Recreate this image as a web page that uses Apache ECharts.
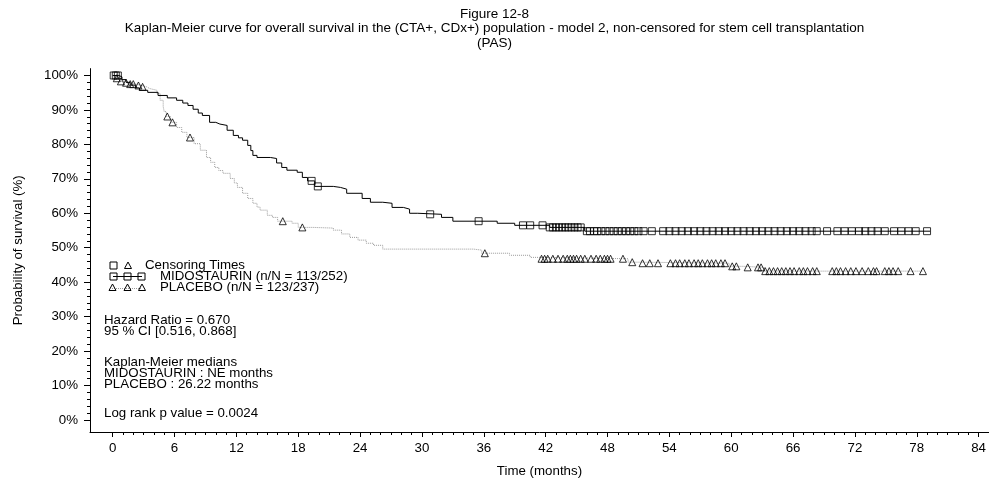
<!DOCTYPE html>
<html>
<head>
<meta charset="utf-8">
<script src="https://cdn.jsdelivr.net/npm/echarts@6/dist/echarts.min.js"></script>
<style>
    html, body { margin: 0; padding: 0; background: #fff; }
    #chart { width: 989px; height: 483px; }
</style>
</head>
<body>
<div id="chart"></div>
<script>
// tick labels
var xTicks = [0, 6, 12, 18, 24, 30, 36, 42, 48, 54, 60, 66, 72, 78, 84];
var yTicks = [0, 10, 20, 30, 40, 50, 60, 70, 80, 90, 100];

// MIDOSTAURIN step curve (months, % surviving)
var midoTime = [0, 0.6, 0.9, 1.3, 1.7, 2.2, 2.6, 3.4, 4.4, 5.3, 6.2, 6.8, 7.3, 7.8, 8.3, 8.7, 9.4, 10.0, 10.4, 11.1,
    11.7, 12.2, 12.6, 13.1, 13.4, 13.6, 14.0, 15.3, 15.9, 16.4, 16.9, 17.9, 18.4, 18.9, 19.6, 21.4, 22.1, 22.7,
    24.2, 25.0, 26.2, 27.1, 28.2, 28.8, 29.6, 31.9, 33.0, 37.3, 39.0, 42.4, 45.8, 79.3];
var midoSurv = [100, 99.6, 98.8, 98.0, 97.2, 96.4, 95.7, 95.1, 94.2, 93.5, 92.8, 92.0, 91.3, 90.2, 89.1, 88.4, 86.4, 85.9, 85.5, 84.1,
    82.6, 81.9, 81.2, 79.7, 78.2, 76.8, 76.2, 75.9, 74.6, 73.3, 72.5, 71.9, 70.4, 69.4, 67.8, 67.5, 67.0, 65.8,
    64.3, 63.2, 62.9, 61.7, 61.2, 60.0, 59.7, 58.8, 57.7, 57.1, 56.5, 55.9, 54.8, 54.8];
var midoCensor = [0.1, 0.3, 0.5, 19.3, 19.9, 30.8, 35.5, 39.8, 40.5, 41.7,
    42.4, 42.7, 43.0, 43.3, 43.6, 43.9, 44.2, 44.5, 44.8, 45.1, 45.4,
    46.0, 46.3, 46.7, 47.0, 47.4, 47.8, 48.2, 48.6, 49.0, 49.4, 49.8, 50.2, 50.6, 51.0, 51.5, 52.3,
    53.4, 54.0, 54.6, 55.2, 55.8, 56.4, 57.0, 57.6, 58.2, 58.8, 59.4, 60.0, 60.6, 61.2, 61.8, 62.4,
    63.0, 63.6, 64.2, 64.8, 65.4, 66.0, 66.6, 67.2, 67.8, 68.3,
    69.3, 70.3, 71.0, 71.7, 72.4, 73.0, 73.6, 74.2, 74.9, 75.8, 76.5, 77.2, 77.9, 79.0];

// PLACEBO step curve
var placTime = [0, 0.3, 0.7, 1.2, 1.7, 2.2, 2.8, 3.3, 3.6, 4.3, 4.6, 4.9, 5.0, 5.2, 5.6, 6.2, 6.7, 7.2, 7.9, 8.5,
    9.1, 9.5, 9.9, 10.3, 10.7, 11.4, 11.8, 12.1, 12.6, 13.1, 13.6, 14.0, 14.3, 15.0, 15.5, 16.0, 17.4, 18.0,
    19.4, 21.4, 22.2, 23.0, 23.8, 24.6, 25.3, 26.2, 35.0, 35.8, 38.5, 40.5, 41.3, 50.0, 51.2, 59.8, 61.2, 63.2, 78.6];
var placSurv = [100, 99.2, 98.3, 97.9, 97.5, 97.1, 96.7, 96.2, 95.7, 94.8, 92.8, 91.0, 89.5, 88.1, 86.4, 84.9, 83.5, 82.0, 80.2, 78.3,
    76.2, 74.8, 73.3, 72.4, 71.6, 70.1, 68.8, 67.5, 65.8, 64.3, 62.9, 61.8, 60.9, 59.4, 58.8, 57.7, 57.1, 55.9,
    55.7, 55.1, 54.0, 53.0, 52.2, 51.3, 50.7, 49.6, 49.3, 48.4, 47.8, 47.2, 46.8, 45.8, 45.5, 44.6, 44.3, 43.2, 43.2];
var placCensor = [0.4, 0.8, 1.3, 1.7, 2.0, 2.5, 2.9, 5.3, 5.8, 7.5, 16.5, 18.4, 36.1,
    41.6, 41.9, 42.2, 42.7, 43.2, 43.7, 44.1, 44.4, 44.7, 45.0, 45.4, 45.8, 46.4, 46.9, 47.3, 47.7, 48.0, 48.3,
    49.5, 50.4, 51.4, 52.1, 52.9,
    54.1, 54.6, 55.0, 55.5, 55.9, 56.4, 56.8, 57.2, 57.7, 58.1, 58.5, 59.0, 59.4,
    60.1, 60.5, 61.6, 62.6, 62.9,
    63.3, 63.7, 64.1, 64.5, 64.9, 65.3, 65.7, 66.1, 66.6, 67.0, 67.4, 67.9, 68.3,
    69.8, 70.2, 70.6, 71.1, 71.6, 72.1, 72.7, 73.3, 73.8, 74.1,
    74.9, 75.3, 75.7, 76.2, 77.4, 78.6];

var statLines = [
    'Hazard Ratio = 0.670',
    '95 % CI [0.516, 0.868]',
    'Kaplan-Meier medians',
    'MIDOSTAURIN : NE months',
    'PLACEBO : 26.22 months',
    'Log rank p value = 0.0024'
];

var FONT = 'Arial, "Liberation Sans", sans-serif';
var FS = 13.3;

function survAt(T, S, t) {
    var s = S[0], i;
    for (i = 0; i < T.length; i++) {
        if (T[i] <= t) { s = S[i]; }
    }
    return s;
}

function pairs(T, S) {
    var out = [], i;
    for (i = 0; i < T.length; i++) { out.push([T[i], S[i]]); }
    return out;
}

function censorPoints(C, T, S) {
    var out = [], i;
    for (i = 0; i < C.length; i++) { out.push([C[i], survAt(T, S, C[i])]); }
    return out;
}

function minorOf(from, to, step, majors) {
    var out = [], v;
    for (v = from; v <= to + 1e-9; v += step) {
        if (majors.indexOf(Math.round(v)) < 0) { out.push(Math.round(v)); }
    }
    return out;
}

var xMinor = minorOf(1, 85, 1, xTicks);
var yMinor = minorOf(2, 100, 2, yTicks);

function txt(x, y, s) {
    return { type: 'text', x: x, y: y, style: { text: s, font: FS + 'px ' + FONT, fill: '#000', verticalAlign: 'middle', textVerticalAlign: 'middle' }, z: 10 };
}
function sq(cx, cy) {
    return { type: 'rect', shape: { x: cx - 3.5, y: cy - 3.5, width: 7, height: 7 }, style: { fill: 'none', stroke: '#000', lineWidth: 1 }, z: 11 };
}
function tri(cx, cy) {
    return { type: 'polygon', shape: { points: [[cx - 3.5, cy + 3], [cx + 3.5, cy + 3], [cx, cy - 3.5]] }, style: { fill: 'none', stroke: '#000', lineWidth: 1 }, z: 11 };
}

var graphics = [
    // legend: censoring
    sq(113.5, 265.5), tri(128, 265.5),
    txt(145, 265, 'Censoring Times'),
    // legend: midostaurin
    { type: 'line', shape: { x1: 113, y1: 276.5, x2: 142, y2: 276.5 }, style: { stroke: '#000', lineWidth: 1 }, z: 10 },
    sq(113.5, 276.5), sq(127.5, 276.5), sq(141.5, 276.5),
    txt(160, 276, 'MIDOSTAURIN (n/N = 113/252)'),
    // legend: placebo
    { type: 'line', shape: { x1: 112, y1: 288.5, x2: 142, y2: 288.5 }, style: { stroke: '#999', lineWidth: 1, lineDash: [1, 1] }, z: 10 },
    tri(112.5, 287.5), tri(127.5, 287.5), tri(142, 287.5),
    txt(160, 287, 'PLACEBO (n/N = 123/237)'),
    txt(104, 320, statLines[0]),
    txt(104, 331, statLines[1]),
    txt(104, 362, statLines[2]),
    txt(104, 373, statLines[3]),
    txt(104, 384, statLines[4]),
    txt(104, 413, statLines[5])
];

var myChart = echarts.init(document.getElementById('chart'), null, { renderer: 'canvas' });

var axisBase = {
    type: 'value',
    splitLine: { show: false },
    axisLine: { onZero: false, lineStyle: { color: '#000', width: 1 } }
};

var option = {
    animation: false,
    backgroundColor: '#fff',
    title: {
        text: 'Figure 12-8\nKaplan-Meier curve for overall survival in the (CTA+, CDx+) population - model 2, non-censored for stem cell transplantation\n(PAS)',
        left: 'center',
        top: 2,
        textStyle: { fontSize: 13.5, fontWeight: 'normal', color: '#000', lineHeight: 14.5, fontFamily: FONT, align: 'center' }
    },
    grid: { left: 90, right: 0, top: 68.6, bottom: 51, containLabel: false },
    xAxis: [
        echarts.util.merge({
            min: -2.2, max: 85, position: 'bottom',
            name: 'Time (months)', nameLocation: 'middle', nameGap: 33,
            nameTextStyle: { fontSize: FS, color: '#000', fontFamily: FONT },
            axisTick: { show: true, length: 5, customValues: xTicks, lineStyle: { color: '#000' } },
            axisLabel: { customValues: xTicks, margin: 10, fontSize: FS, color: '#000', fontFamily: FONT }
        }, axisBase),
        echarts.util.merge({
            min: -2.2, max: 85, position: 'bottom', offset: 0,
            axisLine: { show: false, onZero: false },
            axisTick: { show: true, length: 3, customValues: xMinor, lineStyle: { color: '#000' } },
            axisLabel: { show: false, customValues: xMinor }
        }, axisBase)
    ],
    yAxis: [
        echarts.util.merge({
            min: -3.5, max: 102, position: 'left',
            name: 'Probability of survival (%)', nameLocation: 'middle', nameGap: 65,
            nameTextStyle: { fontSize: FS, color: '#000', fontFamily: FONT },
            axisTick: { show: true, length: 6, customValues: yTicks, lineStyle: { color: '#000' } },
            axisLabel: { customValues: yTicks, margin: 12, fontSize: FS, color: '#000', fontFamily: FONT, formatter: '{value}%' }
        }, axisBase),
        echarts.util.merge({
            min: -3.5, max: 102, position: 'left', offset: 0,
            axisLine: { show: false, onZero: false },
            axisTick: { show: true, length: 3, customValues: yMinor, lineStyle: { color: '#000' } },
            axisLabel: { show: false, customValues: yMinor }
        }, axisBase)
    ],
    graphic: graphics,
    series: [
        {
            name: 'PLACEBO', type: 'line', step: 'end', data: pairs(placTime, placSurv),
            showSymbol: false, symbol: 'none', silent: true,
            lineStyle: { color: '#9a9a9a', width: 1, type: [1, 1] }, z: 2
        },
        {
            name: 'MIDOSTAURIN', type: 'line', step: 'end', data: pairs(midoTime, midoSurv),
            showSymbol: false, symbol: 'none', silent: true,
            lineStyle: { color: '#000', width: 1 }, z: 3
        },
        {
            name: 'PLACEBO censored', type: 'scatter', data: censorPoints(placCensor, placTime, placSurv),
            symbol: 'triangle', symbolSize: [7, 7], silent: true,
            itemStyle: { color: 'rgba(0,0,0,0)', borderColor: '#000', borderWidth: 1 }, z: 4
        },
        {
            name: 'MIDOSTAURIN censored', type: 'scatter', data: censorPoints(midoCensor, midoTime, midoSurv),
            symbol: 'rect', symbolSize: [7, 7], silent: true,
            itemStyle: { color: 'rgba(0,0,0,0)', borderColor: '#000', borderWidth: 1 }, z: 5
        }
    ]
};

myChart.setOption(option);
</script>
</body>
</html>
